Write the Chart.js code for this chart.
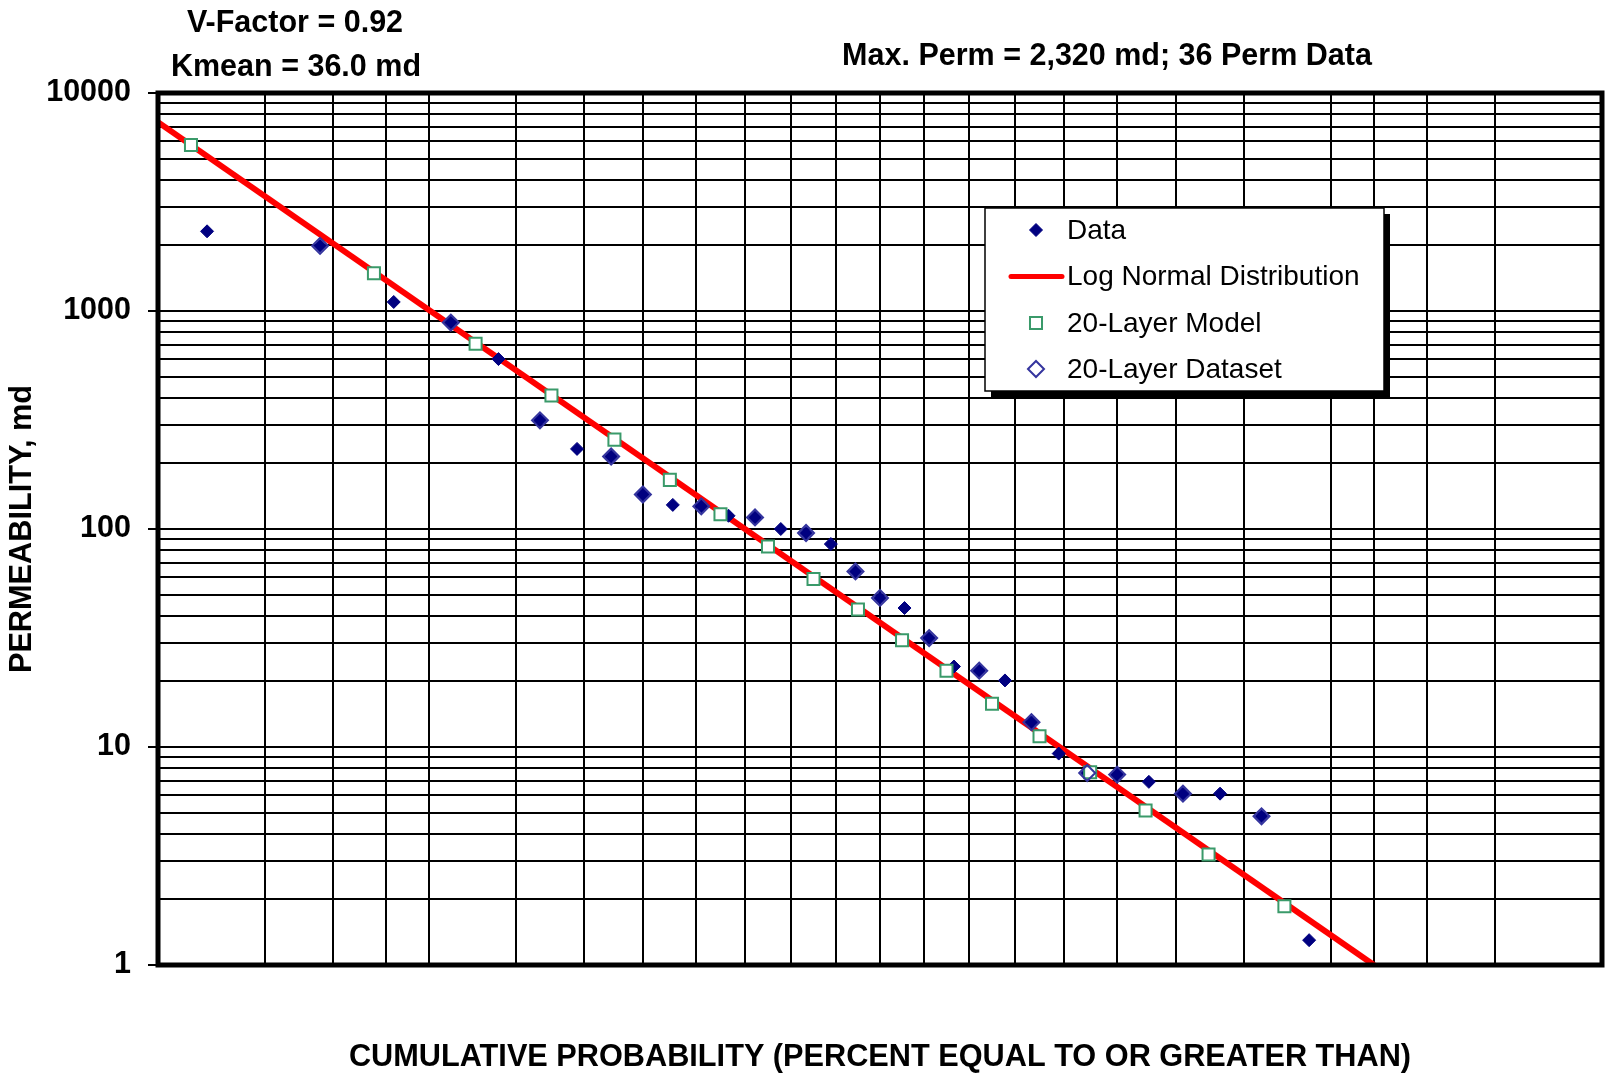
<!DOCTYPE html>
<html>
<head>
<meta charset="utf-8">
<title>Permeability Distribution</title>
<script src="https://cdn.jsdelivr.net/npm/chart.js@4.4.1/dist/chart.umd.min.js"></script>
<style>
  html, body { margin: 0; padding: 0; background: #ffffff; overflow: hidden; }
  #wrap { width: 1606px; height: 1074px; position: relative; }
</style>
</head>
<body>
<div id="wrap"><canvas id="chart" width="1606" height="1074"></canvas></div>
<script>
// ---- Probability grid (percent equal to or greater than) ----
const gridPercent = [2, 4, 6, 8, 10, 15, 20, 25, 30, 35, 40, 45, 50, 55, 60, 65, 70, 75, 80, 85, 90, 92, 94, 96, 98];
// ---- Labelled permeability ticks ----
const yTickLabels = [1, 10, 100, 1000, 10000];

// ---- Core permeability data, ranked (36 samples; 32 plot above 1 md) ----
const dataPercent = [2.78, 5.56, 8.33, 11.11, 13.89, 16.67, 19.44, 22.22, 25.00, 27.78, 30.56, 33.33,
                     36.11, 38.89, 41.67, 44.44, 47.22, 50.00, 52.78, 55.56, 58.33, 61.11, 63.89, 66.67,
                     69.44, 72.22, 75.00, 77.78, 80.56, 83.33, 86.11, 88.89];
const dataPerm = [2320, 1990, 1100, 885, 602, 315, 233, 215, 144, 129, 127, 115,
                  113, 100, 95.9, 85.3, 63.9, 48.3, 43.4, 31.6, 23.4, 22.4, 20.2, 13.0,
                  9.33, 7.6, 7.47, 6.92, 6.11, 6.11, 4.81, 1.30];

// ---- Log normal distribution line (Kmean = 36 md, V = 0.92) ----
const logNormalPercent = [2, 92.0];
const logNormalPerm = [7350, 1];

// ---- 20-layer model ----
const modelPercent = [2.5, 7.5, 12.5, 17.5, 22.5, 27.5, 32.5, 37.5, 42.5, 47.5, 52.5, 57.5,
                      62.5, 67.5, 72.5, 77.5, 82.5, 87.5];
const modelPerm = [5780, 1490, 707, 410, 257, 168, 117, 83.2, 59.0, 42.7, 30.9, 22.4,
                   15.8, 11.2, 7.66, 5.11, 3.21, 1.86];

// ---- 20-layer dataset (samples picked from the ranked data) ----
const layerSetPercent = [5.56, 11.11, 16.67, 22.22, 25.00, 30.56, 36.11, 41.67, 47.22, 50.00,
                         55.56, 61.11, 66.67, 72.22, 75.00, 80.56, 86.11];
const layerSetPerm = [1990, 885, 315, 215, 144, 127, 113, 95.9, 63.9, 48.3,
                      31.6, 22.4, 13.0, 7.6, 7.47, 6.11, 4.81];

const FONT = "'Liberation Sans', Arial, Helvetica, sans-serif";

// Inverse standard normal CDF (Acklam's rational approximation)
function probit(p) {
  const a = [-3.969683028665376e+01, 2.209460984245205e+02, -2.759285104469687e+02,
             1.383577518672690e+02, -3.066479806614716e+01, 2.506628277459239e+00];
  const b = [-5.447609879822406e+01, 1.615858368580409e+02, -1.556989798598866e+02,
             6.680131188771972e+01, -1.328068155288572e+01];
  const c = [-7.784894002430293e-03, -3.223964580411365e-01, -2.400758277161838e+00,
             -2.549732539343734e+00, 4.374664141464968e+00, 2.938163982698783e+00];
  const d = [7.784695709041462e-03, 3.224671290700398e-01, 2.445134137142996e+00,
             3.754408661907416e+00];
  const pl = 0.02425, ph = 1 - pl;
  let q, r;
  if (p < pl) {
    q = Math.sqrt(-2 * Math.log(p));
    return (((((c[0]*q + c[1])*q + c[2])*q + c[3])*q + c[4])*q + c[5]) /
           ((((d[0]*q + d[1])*q + d[2])*q + d[3])*q + 1);
  }
  if (p <= ph) {
    q = p - 0.5; r = q * q;
    return (((((a[0]*r + a[1])*r + a[2])*r + a[3])*r + a[4])*r + a[5]) * q /
           (((((b[0]*r + b[1])*r + b[2])*r + b[3])*r + b[4])*r + 1);
  }
  q = Math.sqrt(-2 * Math.log(1 - p));
  return -(((((c[0]*q + c[1])*q + c[2])*q + c[3])*q + c[4])*q + c[5]) /
          ((((d[0]*q + d[1])*q + d[2])*q + d[3])*q + 1);
}

// Standard normal CDF (Abramowitz-Stegun erf approximation)
function normCdf(z) {
  const t = 1 / (1 + 0.3275911 * Math.abs(z) / Math.SQRT2);
  const y = 1 - (((((1.061405429 * t - 1.453152027) * t) + 1.421413741) * t - 0.284496736) * t + 0.254829592) * t *
            Math.exp(-z * z / 2);
  return z >= 0 ? 0.5 * (1 + y) : 0.5 * (1 - y);
}

// Normal-probability axis: values in percent, spaced by their normal quantile
class ProbabilityScale extends Chart.LinearScale {
  buildTicks() {
    return gridPercent.map(v => ({ value: v }));
  }
  configure() {
    super.configure();
    this._zStart = probit(this.min / 100);
    this._zEnd = probit(this.max / 100);
  }
  getPixelForValue(value) {
    const z = probit(value / 100);
    return this.getPixelForDecimal((z - this._zStart) / (this._zEnd - this._zStart));
  }
  getValueForPixel(pixel) {
    const z = this._zStart + this.getDecimalForPixel(pixel) * (this._zEnd - this._zStart);
    return 100 * normCdf(z);
  }
}
ProbabilityScale.id = 'probability';
ProbabilityScale.defaults = { ticks: { callback: () => '' } };
Chart.register(ProbabilityScale);

const toPoints = (xs, ys) => xs.map((x, i) => ({ x: x, y: ys[i] }));

// Permeability ticks: every 1..9 multiple of each decade, labels on the decades
const yTickValues = [];
for (let k = 0; k < yTickLabels.length - 1; k++) {
  for (let m = 1; m <= 9; m++) yTickValues.push(m * yTickLabels[k]);
}
yTickValues.push(yTickLabels[yTickLabels.length - 1]);

const styles = {
  data:      { pointStyle: 'rectRot', radius: 6.5, backgroundColor: '#000080', borderColor: '#000080', borderWidth: 1 },
  model:     { pointStyle: 'rect', radius: 8.5, backgroundColor: '#ffffff', borderColor: '#3a9a6a', borderWidth: 2 },
  layerSet:  { pointStyle: 'rectRot', radius: 8, backgroundColor: 'rgba(0,0,0,0)', borderColor: '#34349e', borderWidth: 2 }
};

// Top annotations
const headerPlugin = {
  id: 'header',
  afterDraw(chart) {
    const ctx = chart.ctx;
    ctx.save();
    ctx.fillStyle = '#000';
    ctx.font = `bold 30.5px ${FONT}`;
    ctx.textAlign = 'center';
    ctx.textBaseline = 'alphabetic';
    ctx.fillText('V-Factor = 0.92', 295, 31.5);
    ctx.fillText('Kmean = 36.0 md', 296, 75.5);
    ctx.fillText('Max. Perm = 2,320 md; 36 Perm Data', 1107, 65.2);
    ctx.restore();
  }
};

// Heavy frame around the plot area
const framePlugin = {
  id: 'frame',
  afterDatasetsDraw(chart) {
    const { ctx, chartArea: a } = chart;
    ctx.save();
    ctx.strokeStyle = '#000';
    ctx.lineWidth = 5;
    ctx.strokeRect(a.left, a.top, a.right - a.left, a.bottom - a.top);
    ctx.restore();
  }
};

// Boxed legend with drop shadow inside the plot
const boxLegendPlugin = {
  id: 'boxLegend',
  afterDraw(chart) {
    const ctx = chart.ctx;
    const x0 = 985, y0 = 208, w = 399, h = 183;
    ctx.save();
    ctx.fillStyle = '#000';
    ctx.fillRect(x0 + 6, y0 + 6, w, h);
    ctx.fillStyle = '#fff';
    ctx.fillRect(x0, y0, w, h);
    ctx.strokeStyle = '#000';
    ctx.lineWidth = 1.5;
    ctx.strokeRect(x0, y0, w, h);

    const symX = 1036, textX = 1067;
    const rows = [230, 276.5, 323, 369];
    const sets = chart.data.datasets;
    [0, 1, 2, 3].forEach((di, r) => {
      const ds = sets[di];
      const y = rows[r];
      if (ds.showLine) {
        ctx.strokeStyle = ds.borderColor;
        ctx.lineWidth = 5;
        ctx.lineCap = 'round';
        ctx.beginPath();
        ctx.moveTo(1011, y);
        ctx.lineTo(1062, y);
        ctx.stroke();
      } else {
        ctx.fillStyle = ds.pointBackgroundColor;
        ctx.strokeStyle = ds.pointBorderColor;
        ctx.lineWidth = ds.pointBorderWidth;
        Chart.helpers.drawPoint(ctx, {
          pointStyle: ds.pointStyle, radius: ds.pointRadius,
          borderWidth: ds.pointBorderWidth, rotation: 0
        }, symX, y);
      }
      ctx.fillStyle = '#000';
      ctx.font = `28px ${FONT}`;
      ctx.textAlign = 'left';
      ctx.textBaseline = 'alphabetic';
      ctx.fillText(ds.label, textX, y + 8.5);
    });
    ctx.restore();
  }
};

const pointDataset = (label, pts, st, order) => ({
  label: label,
  data: pts,
  showLine: false,
  order: order,
  pointStyle: st.pointStyle,
  pointRadius: st.radius,
  pointHoverRadius: st.radius,
  pointBackgroundColor: st.backgroundColor,
  pointBorderColor: st.borderColor,
  pointBorderWidth: st.borderWidth,
  backgroundColor: st.backgroundColor,
  borderColor: st.borderColor
});

new Chart(document.getElementById('chart'), {
  type: 'scatter',
  data: {
    datasets: [
      pointDataset('Data', toPoints(dataPercent, dataPerm), styles.data, 3),
      {
        label: 'Log Normal Distribution',
        data: toPoints(logNormalPercent, logNormalPerm),
        showLine: true,
        order: 4,
        borderColor: '#ff0000',
        backgroundColor: '#ff0000',
        borderWidth: 6,
        pointRadius: 0,
        pointHoverRadius: 0,
        fill: false
      },
      pointDataset('20-Layer Model', toPoints(modelPercent, modelPerm), styles.model, 2),
      pointDataset('20-Layer Dataset', toPoints(layerSetPercent, layerSetPerm), styles.layerSet, 1)
    ]
  },
  options: {
    responsive: false,
    devicePixelRatio: 1,
    animation: false,
    events: [],
    layout: { autoPadding: false, padding: { top: 93, right: 4, left: 0, bottom: 0 } },
    plugins: {
      legend: { display: false },
      tooltip: { enabled: false }
    },
    scales: {
      x: {
        type: 'probability',
        min: 2,
        max: 98,
        afterFit: s => { s.height = 109; },
        border: { display: false },
        grid: { color: '#000', lineWidth: 2, drawTicks: false },
        ticks: { display: false },
        title: {
          display: true,
          text: 'CUMULATIVE PROBABILITY (PERCENT EQUAL TO OR GREATER THAN)',
          color: '#000',
          font: { family: FONT, size: 30.7, weight: 'bold', lineHeight: 1.08 },
          padding: { top: 0, bottom: 0 }
        }
      },
      y: {
        type: 'logarithmic',
        min: 1,
        max: 10000,
        afterFit: s => { s.width = 158; },
        afterBuildTicks: s => { s.ticks = yTickValues.map(v => ({ value: v })); },
        border: { display: false },
        grid: {
          color: '#000',
          lineWidth: 2,
          drawTicks: true,
          tickLength: 10,
          tickWidth: 2,
          tickColor: c => (c.tick && yTickLabels.includes(c.tick.value)) ? '#000' : 'rgba(0,0,0,0)'
        },
        ticks: {
          autoSkip: false,
          padding: 17,
          color: '#000',
          font: { family: FONT, size: 30.5, weight: 'bold' },
          callback: v => yTickLabels.includes(v) ? String(v) : ''
        },
        title: {
          display: true,
          text: 'PERMEABILITY, md',
          color: '#000',
          font: { family: FONT, size: 30.7, weight: 'bold', lineHeight: 1.2 },
          padding: { top: 4, bottom: 0 }
        }
      }
    }
  },
  plugins: [framePlugin, boxLegendPlugin, headerPlugin]
});
</script>
</body>
</html>
